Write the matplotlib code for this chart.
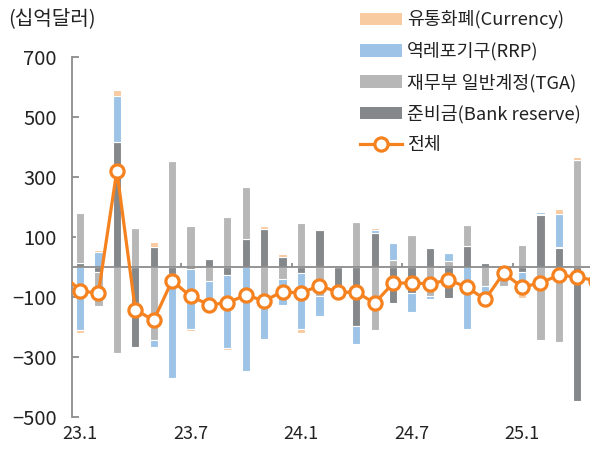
import matplotlib
matplotlib.use("Agg")
import matplotlib.pyplot as plt
import numpy as np
from matplotlib.patches import Patch
from matplotlib.lines import Line2D

plt.rcParams['font.family'] = ['Noto Sans CJK KR', 'DejaVu Sans']

# months 23.1 .. 25.4 (bars)
months = ["23.1", "23.2", "23.3", "23.4", "23.5", "23.6", "23.7", "23.8", "23.9", "23.10",
          "23.11", "23.12", "24.1", "24.2", "24.3", "24.4", "24.5", "24.6", "24.7", "24.8",
          "24.9", "24.10", "24.11", "24.12", "25.1", "25.2", "25.3", "25.4"]

bank_reserve = [15, -15, 417, -267, 68, -22, -5, 26, -26, 93, 128, 34, -20, 123, -92, -197,
                112, -120, -88, 62, -103, 70, 13, -5, -15, 175, 65, -447]
tga = [165, -115, -285, 129, -244, 354, 137, -48, 168, 172, -128, -40, 148, -95, 0, 151,
       -210, 25, 106, -95, 20, 69, -62, -58, 73, -243, -251, 357]
rrp = [-210, 50, 153, 0, -22, -348, -200, -80, -245, -348, -113, -85, -185, -68, 0, -60,
       12, 54, -62, -10, 27, -205, -58, 0, -72, 8, 113, 0]
currency = [-10, 8, 20, 3, 15, 0, -8, 0, -7, 0, 8, 10, -15, 3, 8, 0,
            5, 0, 0, 0, 0, 0, 0, 0, -15, 5, 15, 8]

# total line: 22.12 .. 25.5 (first and last months only partly visible)
total_months = ["22.12"] + months + ["25.5"]
total = [-18, -80, -87, 321, -142, -178, -45, -98, -125, -120, -93, -113, -82, -87, -62, -84,
         -84, -120, -54, -53, -56, -43, -67, -108, -20, -67, -53, -27, -34, -45]

tick_labels = ["23.1", "23.7", "24.1", "24.7", "25.1"]

series = [
    ("준비금(Bank reserve)", bank_reserve, "#85888b"),
    ("재무부 일반계정(TGA)", tga, "#b7b7b7"),
    ("역레포기구(RRP)", rrp, "#9dc3e6"),
    ("유통화폐(Currency)", currency, "#f8cba0"),
]
line_color = "#f5821f"

fig = plt.figure(figsize=(5.9, 4.5), dpi=100)
ax = fig.add_axes([72 / 590, 33 / 450, 518 / 590, 360 / 450])

x = np.arange(len(months))
xt = np.arange(len(total_months)) - 1

pos = np.zeros(len(months))
neg = np.zeros(len(months))
for name, vals, col in series:
    v = np.array(vals, dtype=float)
    bottom = np.where(v >= 0, pos, neg)
    ax.bar(x, v, bottom=bottom, width=0.45, color=col, edgecolor="white",
           linewidth=0.8, zorder=2)
    pos = np.where(v >= 0, pos + v, pos)
    neg = np.where(v < 0, neg + v, neg)

ax.axhline(0, color="#8c8c8c", linewidth=1.3, zorder=3)
# small category-boundary ticks on the zero line
bounds = [months.index(t) - 0.5 for t in tick_labels[1:]]
ax.vlines(bounds, 0, 14, color="#8c8c8c", linewidth=1.3, zorder=3)

ax.plot(xt, total, color=line_color, linewidth=2.3, marker="o", markersize=9.5,
        markerfacecolor="white", markeredgecolor=line_color, markeredgewidth=2.3,
        zorder=4, clip_on=True)

ax.set_xlim(-0.435, 27.69)
ax.set_ylim(-500, 700)
ax.set_yticks([700, 500, 300, 100, -100, -300, -500])
ax.set_xticks([months.index(t) for t in tick_labels])
ax.set_xticklabels(tick_labels, fontsize=13, color="#222222")
ax.tick_params(axis="x", length=0, pad=6)
ax.tick_params(axis="y", direction="in", length=5, width=1.3, color="#8c8c8c",
               labelsize=14.5, labelcolor="#222222", pad=11)

for s in ["top", "right", "bottom"]:
    ax.spines[s].set_visible(False)
ax.spines["left"].set_color("#8c8c8c")
ax.spines["left"].set_linewidth(1.3)

fig.text(8 / 590, 1 - 19 / 450, "(십억달러)", fontsize=14.5, color="#222222",
         ha="left", va="center")

handles = [Patch(facecolor=c, edgecolor="none") for _, _, c in series[::-1]]
labels = [n for n, _, _ in series[::-1]]
handles.append(Line2D([0], [0], color=line_color, linewidth=2.3, marker="o",
                      markersize=9.5, markerfacecolor="white",
                      markeredgecolor=line_color, markeredgewidth=2.3))
labels.append("전체")
leg = fig.legend(handles, labels, loc="upper left", bbox_to_anchor=(353 / 590, 1 - 3 / 450),
                 frameon=False, fontsize=13.2, handlelength=2.25, handleheight=0.7,
                 handletextpad=0.3, labelspacing=0.7, borderaxespad=0)
for t in leg.get_texts():
    t.set_color("#222222")

fig.savefig("out.png", dpi=100)
